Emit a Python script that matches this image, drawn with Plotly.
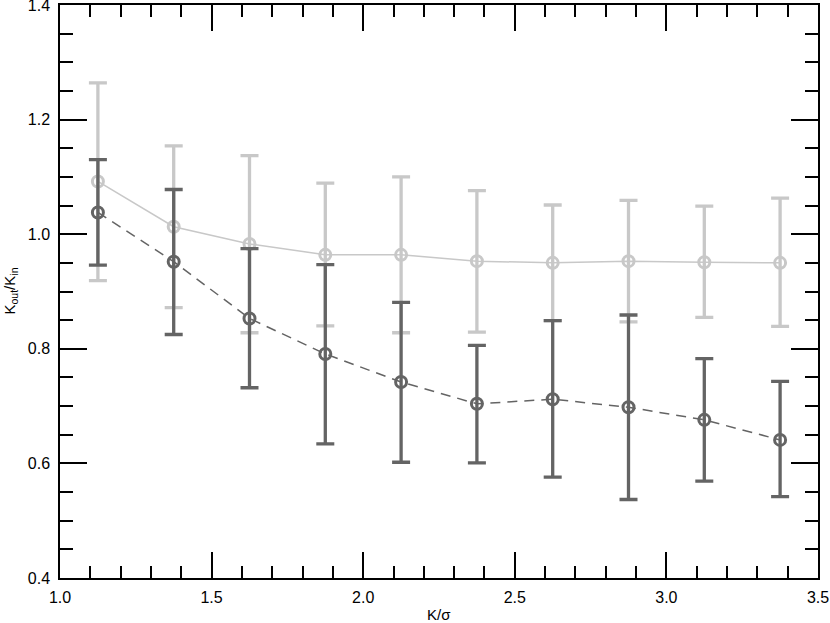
import plotly.graph_objects as go

x = [1.125, 1.375, 1.625, 1.875, 2.125, 2.375, 2.625, 2.875, 3.125, 3.375]

light_y = [1.092, 1.013, 0.983, 0.964, 0.964, 0.953, 0.950, 0.953, 0.951, 0.950]
light_hi = [1.264, 1.154, 1.137, 1.089, 1.100, 1.076, 1.051, 1.059, 1.049, 1.063]
light_lo = [0.919, 0.872, 0.828, 0.840, 0.828, 0.829, 0.849, 0.847, 0.855, 0.839]

dark_y = [1.038, 0.952, 0.853, 0.791, 0.742, 0.704, 0.712, 0.698, 0.676, 0.641]
dark_hi = [1.130, 1.078, 0.975, 0.947, 0.881, 0.806, 0.849, 0.859, 0.783, 0.743]
dark_lo = [0.946, 0.825, 0.732, 0.634, 0.602, 0.601, 0.576, 0.537, 0.569, 0.542]

x_ticks = [1.0, 1.5, 2.0, 2.5, 3.0, 3.5]
x_labels = ["1.0", "1.5", "2.0", "2.5", "3.0", "3.5"]
y_ticks = [0.4, 0.6, 0.8, 1.0, 1.2, 1.4]
y_labels = ["0.4", "0.6", "0.8", "1.0", "1.2", "1.4"]

x_title = "K/σ"
y_title = "K<sub>out</sub>/K<sub>in</sub>"

LIGHT = "#c8c8c8"
DARK = "#646464"

fig = go.Figure()

def add_series(y, hi, lo, color, dash):
    fig.add_trace(go.Scatter(
        x=x, y=y, mode="lines+markers",
        line=dict(color=color, width=1.5, dash=dash),
        marker=dict(symbol="circle-open", size=11, color=color,
                    line=dict(color=color, width=3)),
        error_y=dict(type="data", symmetric=False,
                     array=[h - v for h, v in zip(hi, y)],
                     arrayminus=[v - l for v, l in zip(y, lo)],
                     color=color, thickness=3.3, width=9),
        showlegend=False,
        cliponaxis=False,
    ))

add_series(light_y, light_hi, light_lo, LIGHT, "solid")
add_series(dark_y, dark_hi, dark_lo, DARK, "10px,7px")

font = dict(family="Liberation Sans, Arial, sans-serif", size=16, color="#000000")

fig.update_layout(
    width=830, height=623,
    margin=dict(l=60, r=12, t=5, b=45),
    paper_bgcolor="white", plot_bgcolor="white",
    font=font,
)
fig.update_xaxes(
    range=[1.0, 3.5], tickmode="array", tickvals=x_ticks, ticktext=x_labels,
    automargin=False, ticklabeloverflow="allow", ticklabelstandoff=4,
    showgrid=False, zeroline=False,
    showline=True, linecolor="black", linewidth=1.5, mirror="ticks",
    ticks="inside", ticklen=26, tickwidth=1.5, tickcolor="black",
    minor=dict(dtick=0.1, ticks="inside", ticklen=12, tickwidth=1.5, tickcolor="black", showgrid=False),
)
fig.update_yaxes(
    range=[0.4, 1.4], tickmode="array", tickvals=y_ticks, ticktext=y_labels,
    automargin=False, ticklabeloverflow="allow", ticklabelstandoff=5,
    showgrid=False, zeroline=False,
    showline=True, linecolor="black", linewidth=1.5, mirror="ticks",
    ticks="inside", ticklen=27, tickwidth=1.5, tickcolor="black",
    minor=dict(dtick=0.05, ticks="inside", ticklen=13, tickwidth=1.5, tickcolor="black", showgrid=False),
)

fig.add_annotation(text=x_title, xref="paper", yref="paper", x=0.5, y=0,
                   xanchor="center", yanchor="middle", yshift=-36,
                   showarrow=False, font=dict(family=font["family"], size=15, color="black"))
fig.add_annotation(text=y_title, xref="paper", yref="paper", x=0, y=0.5,
                   xanchor="center", yanchor="middle", xshift=-50, textangle=-90,
                   showarrow=False, font=dict(family=font["family"], size=15, color="black"))

fig.write_html("out.html", config={"displayModeBar": False},
               post_script="document.body.style.margin='0';document.body.style.overflow='hidden';")
